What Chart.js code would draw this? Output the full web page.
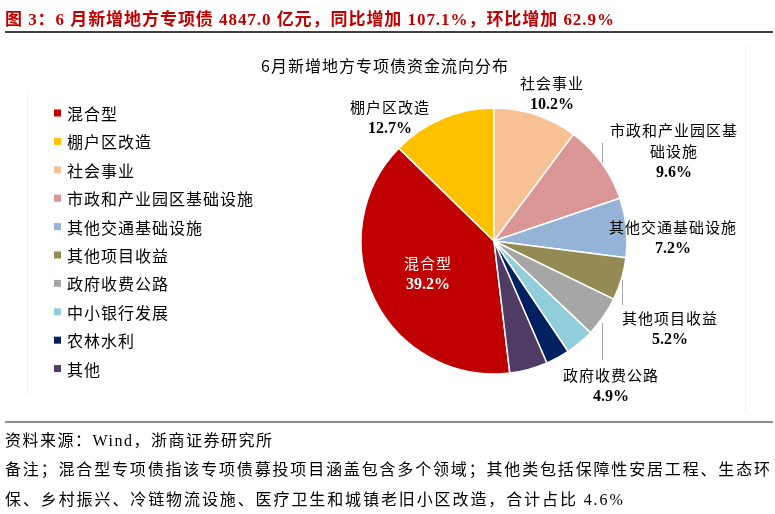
<!DOCTYPE html>
<html>
<head>
<meta charset="utf-8">
<script src="https://cdn.jsdelivr.net/npm/chart.js@4.4.1/dist/chart.umd.min.js"></script>
<style>
  html, body { margin: 0; padding: 0; background: #fff; }
  #wrap { position: relative; width: 775px; height: 514px; overflow: hidden; }
  #chartBox { position: absolute; left: 0; top: 0; width: 775px; height: 514px; }
  .txt { position: absolute; font-family: "Liberation Serif", "Noto Sans CJK SC", serif; color: #000; white-space: nowrap; }
  #title { left: 5px; top: 5px; font-size: 17px; font-weight: bold; color: #c00000; letter-spacing: 0.95px; }
  #rule1 { position: absolute; left: 5px; top: 31px; width: 768px; height: 2px; background: #404040; }
  #rule2 { position: absolute; left: 5px; top: 421px; width: 768px; height: 2px; background: #8c8c8c; }
  .foot { font-size: 16px; left: 5px; }
</style>
</head>
<body>
<div id="wrap">
  <div id="chartBox"><canvas id="pie"></canvas></div>
  <div class="txt" id="title">图 3：6 月新增地方专项债 4847.0 亿元，同比增加 107.1%，环比增加 62.9%</div>
  <div id="rule1"></div>
  <div id="rule2"></div>
  <div class="txt foot" style="top:427px; letter-spacing:1.5px;">资料来源：Wind，浙商证券研究所</div>
  <div class="txt foot" style="top:456px; width:765px; text-align:justify; text-align-last:justify;">备注；混合型专项债指该专项债募投项目涵盖包含多个领域；其他类包括保障性安居工程、生态环</div>
  <div class="txt foot" style="top:486px; letter-spacing:1.9px;">保、乡村振兴、冷链物流设施、医疗卫生和城镇老旧小区改造，合计占比 4.6%</div>
</div>
<script>
// data
const categories = ['混合型', '棚户区改造', '社会事业', '市政和产业园区基础设施', '其他交通基础设施',
                    '其他项目收益', '政府收费公路', '中小银行发展', '农林水利', '其他'];
const shares = [39.2, 12.7, 10.2, 9.6, 7.2, 5.2, 4.9, 3.5, 2.9, 4.6];
const colors = ['#c00000', '#ffc000', '#f8c193', '#d99694', '#95b3d7',
                '#948a54', '#a6a6a6', '#92cddc', '#002060', '#4f3b63'];
const chartTitle = '6月新增地方专项债资金流向分布';

// label placement (text only), keyed by slice index
const labelSpots = {
    0: { x: 428, y: 263, color: '#fff' },
    1: { x: 390, y: 107 },
    2: { x: 552, y: 83 },
    3: { x: 674, y: 130, wrap: 8 },
    4: { x: 673, y: 227 },
    5: { x: 670, y: 318 },
    6: { x: 611, y: 375 }
};
const leaders = [[602, 143, 602, 163], [622, 280, 622, 305], [602, 323, 602, 360]];

const CJK = '"Noto Sans CJK SC", sans-serif';
const NUM = 'bold 16px "Liberation Serif", "Noto Sans CJK SC", serif';

// start so that the top of the pie sits between 棚户区改造 and 社会事业
const total = shares.reduce((a, b) => a + b, 0);
const startDeg = 360 * (1 - (shares[0] + shares[1]) / total);

const decorPlugin = {
    id: 'decor',
    afterDraw(chart) {
        const ctx = chart.ctx;
        ctx.save();

        // faint frame sides
        ctx.strokeStyle = '#f3f3f3';
        ctx.lineWidth = 1;
        ctx.beginPath();
        ctx.moveTo(27.5, 92); ctx.lineTo(27.5, 395);
        ctx.moveTo(745.5, 45); ctx.lineTo(745.5, 412);
        ctx.stroke();

        // chart title
        ctx.fillStyle = '#000';
        ctx.textAlign = 'center';
        ctx.textBaseline = 'middle';
        ctx.font = '16px ' + CJK;
        ctx.letterSpacing = '1px';
        ctx.fillText(chartTitle, 385, 66);

        // legend
        ctx.textAlign = 'left';
        categories.forEach((name, i) => {
            const y = 113 + i * 28.4;
            ctx.fillStyle = colors[i];
            ctx.fillRect(54, y - 3.5, 7, 7);
            ctx.fillStyle = '#000';
            ctx.font = '16px ' + CJK;
            ctx.fillText(name, 67, y + 1);
        });

        // leader lines
        ctx.strokeStyle = '#a6a6a6';
        ctx.lineWidth = 1;
        leaders.forEach(l => {
            ctx.beginPath();
            ctx.moveTo(l[0] + 0.5, l[1]);
            ctx.lineTo(l[2] + 0.5, l[3]);
            ctx.stroke();
        });

        // slice labels
        ctx.textAlign = 'center';
        Object.keys(labelSpots).forEach(k => {
            const i = Number(k);
            const s = labelSpots[i];
            const name = categories[i];
            const lines = [];
            if (s.wrap && name.length > s.wrap) {
                lines.push(name.slice(0, s.wrap), name.slice(s.wrap));
            } else {
                lines.push(name);
            }
            ctx.fillStyle = s.color || '#000';
            ctx.font = '15px ' + CJK;
            ctx.letterSpacing = '1px';
            lines.forEach((ln, j) => ctx.fillText(ln, s.x, s.y + j * 21.5));
            ctx.font = NUM;
            ctx.letterSpacing = '0px';
            ctx.fillText(shares[i].toFixed(1) + '%', s.x, s.y + lines.length * 21.5);
        });
        ctx.restore();
    }
};

new Chart(document.getElementById('pie'), {
    type: 'pie',
    data: {
        labels: categories,
        datasets: [{
            data: shares,
            backgroundColor: colors,
            borderColor: '#ffffff',
            borderWidth: 1.5
        }]
    },
    options: {
        responsive: true,
        maintainAspectRatio: false,
        animation: false,
        rotation: startDeg,
        radius: 133,
        layout: { padding: { left: 361, right: 148, top: 108, bottom: 140 } },
        plugins: {
            legend: { display: false },
            tooltip: { enabled: false }
        }
    },
    plugins: [decorPlugin]
});
</script>
</body>
</html>
